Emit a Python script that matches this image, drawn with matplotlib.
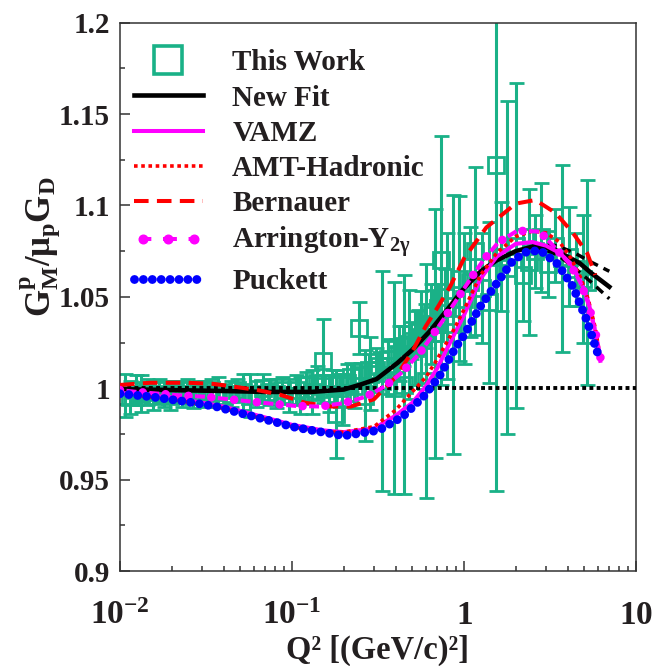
import matplotlib
matplotlib.use('Agg')
import matplotlib.pyplot as plt
from matplotlib.lines import Line2D
from matplotlib.legend_handler import HandlerLine2D

plt.rcParams['font.family'] = 'Liberation Serif'
plt.rcParams['font.weight'] = 'bold'
plt.rcParams['axes.labelweight'] = 'bold'
plt.rcParams['mathtext.fontset'] = 'custom'
plt.rcParams['mathtext.rm'] = 'Liberation Serif:bold'
plt.rcParams['mathtext.it'] = 'Liberation Serif:bold'
plt.rcParams['mathtext.bf'] = 'Liberation Serif:bold'
plt.rcParams['lines.scale_dashes'] = False

GREEN = '#1ab187'
TXT = '#231f20'

# ---- This Work (Q2, GMp/mu_p GD, error) ----
work_q2 = [0.0107, 0.0115, 0.0124, 0.0133, 0.0143, 0.0155, 0.0168, 0.018, 0.0195, 0.021,
           0.0228, 0.0245, 0.0265, 0.029, 0.031, 0.034, 0.037, 0.040, 0.044, 0.048,
           0.052, 0.057, 0.062, 0.068, 0.074, 0.081, 0.088, 0.096,
           0.105, 0.112, 0.12, 0.13, 0.14, 0.152, 0.165, 0.18, 0.195, 0.21,
           0.23, 0.245, 0.265, 0.285, 0.31, 0.335, 0.36, 0.39, 0.42, 0.45,
           0.48, 0.52, 0.56, 0.60, 0.64, 0.68,
           0.15, 0.17, 0.19, 0.22, 0.25, 0.28, 0.32, 0.36, 0.40, 0.44,
           0.49, 0.54, 0.59, 0.65, 0.71, 0.78,
           0.74, 0.80, 0.86, 0.93, 1.0, 1.08, 1.16, 1.28, 1.4, 1.53,
           1.65, 1.79, 2.0, 2.2, 2.4, 2.6, 2.8, 3.1, 3.4, 3.7, 4.1, 4.5, 4.9, 5.2]
work_val = [0.996, 0.995, 0.999, 0.997, 0.998, 0.996, 0.999, 0.997, 0.996, 0.998,
            0.997, 0.999, 0.996, 0.998, 0.997, 0.999, 0.998, 0.996, 0.997, 0.999,
            0.998, 0.996, 0.997, 1.000, 0.998, 0.997, 0.999, 0.996,
            0.999, 0.996, 1.002, 0.998, 1.003, 1.015, 0.997, 0.986, 0.994, 1.003,
            1.001, 1.033, 0.996, 1.008, 1.010, 1.004, 1.012, 1.000, 1.019, 1.002,
            1.024, 1.022, 1.028, 1.004, 1.035, 1.030,
            1.001, 1.003, 1.002, 1.006, 1.007, 1.010, 1.012, 1.016, 1.018, 1.023,
            1.026, 1.031, 1.034, 1.040, 1.044, 1.050,
            1.070, 1.045, 1.035, 1.060, 1.049, 1.058, 1.075, 1.055, 1.047, 1.122,
            1.072, 1.066, 1.078, 1.062, 1.069, 1.075, 1.0825, 1.068, 1.078, 1.071, 1.072, 1.065, 1.060, 1.058]
work_err = [0.012, 0.009, 0.008, 0.010, 0.007, 0.008, 0.006, 0.007, 0.008, 0.006,
            0.007, 0.006, 0.007, 0.006, 0.007, 0.006, 0.008, 0.006, 0.007, 0.006,
            0.010, 0.012, 0.007, 0.008, 0.007, 0.008, 0.007, 0.009,
            0.008, 0.010, 0.007, 0.012, 0.009, 0.023, 0.010, 0.024, 0.014, 0.010,
            0.012, 0.014, 0.025, 0.020, 0.012, 0.060, 0.015, 0.058, 0.015, 0.060,
            0.030, 0.020, 0.025, 0.064, 0.022, 0.068,
            0.006, 0.007, 0.006, 0.008, 0.007, 0.009, 0.008, 0.010, 0.009, 0.011,
            0.010, 0.012, 0.012, 0.014, 0.013, 0.015,
            0.068, 0.040, 0.071, 0.045, 0.036, 0.030, 0.046, 0.030, 0.044, 0.178,
            0.030, 0.091, 0.089, 0.025, 0.040, 0.020, 0.030, 0.018, 0.020, 0.051, 0.027, 0.020, 0.035, 0.056]

# ---- model curves ----
newfit_q2 = [0.01, 0.02, 0.04, 0.07, 0.1, 0.13, 0.17, 0.2, 0.25, 0.31, 0.41, 0.5, 0.63, 0.8,
             0.98, 1.25, 1.55, 2.0, 2.5, 3.0, 3.4, 4.0, 4.7, 5.5, 6.4, 7.0]
newfit_val = [0.9995, 0.999, 0.9985, 0.998, 0.998, 0.998, 0.9988, 0.9993, 1.002, 1.005, 1.0138,
              1.021, 1.031, 1.043, 1.0537, 1.064, 1.070, 1.075, 1.0775, 1.077, 1.0757, 1.072,
              1.0685, 1.063, 1.0583, 1.0555]
band_q2 = [2.5, 3.0, 3.5, 4.5, 5.5, 7.0]
band_hi = [1.0785, 1.0785, 1.078, 1.0735, 1.069, 1.064]
band_lo = [1.0765, 1.0755, 1.073, 1.065, 1.058, 1.049]

vamz_q2 = [0.01, 0.02, 0.04, 0.07, 0.1, 0.15, 0.2, 0.3, 0.4, 0.5, 0.6, 0.7, 0.8, 1.0, 1.25,
           1.55, 2.0, 2.5, 3.0, 3.6, 4.2, 4.8, 5.3, 5.8, 6.2]
vamz_val = [0.9975, 0.995, 0.990, 0.984, 0.980, 0.977, 0.976, 0.978, 0.985, 0.992, 1.001, 1.011,
            1.022, 1.040, 1.060, 1.072, 1.079, 1.080, 1.078, 1.074, 1.068, 1.058, 1.047, 1.031, 1.015]

amt_q2 = [0.01, 0.02, 0.04, 0.07, 0.1, 0.15, 0.2, 0.3, 0.4, 0.5, 0.6, 0.7, 0.85, 1.0, 1.25,
          1.55, 2.0, 2.5, 3.0, 3.6, 4.2, 4.8, 5.3, 5.8, 6.2]
amt_val = [0.997, 0.994, 0.989, 0.983, 0.979, 0.976, 0.976, 0.979, 0.988, 0.998, 1.006, 1.016,
           1.030, 1.043, 1.062, 1.074, 1.083, 1.086, 1.085, 1.080, 1.071, 1.060, 1.048, 1.033, 1.017]

bern_q2 = [0.01, 0.015, 0.025, 0.035, 0.045, 0.063, 0.085, 0.12, 0.17, 0.22, 0.3, 0.4, 0.5,
           0.6, 0.7, 0.83, 1.0, 1.35, 2.0, 2.6, 3.4, 4.3, 5.2, 5.8]
bern_val = [1.0018, 1.003, 1.003, 1.0024, 1.001, 0.999, 0.9965, 0.992, 0.990, 0.990, 0.994,
            1.006, 1.020, 1.034, 1.044, 1.0556, 1.071, 1.088, 1.101, 1.103, 1.096, 1.085, 1.074, 1.062]

arr_q2 = [0.01, 0.0125, 0.017, 0.023, 0.031, 0.042, 0.058, 0.079, 0.106, 0.145, 0.198, 0.27,
          0.35, 0.44, 0.55, 0.65, 0.77, 0.92, 1.08, 1.29, 1.58, 2.04, 2.76, 3.4, 4.2, 4.8,
          5.3, 5.8, 6.3]
arr_val = [0.999, 0.998, 0.997, 0.996, 0.9954, 0.9941, 0.9927, 0.9914, 0.9903, 0.990, 0.9918,
           0.9954, 1.0013, 1.009, 1.019, 1.0284, 1.0384, 1.0493, 1.0592, 1.0698, 1.0797, 1.0862,
           1.0857, 1.0767, 1.067, 1.057, 1.046, 1.031, 1.014]

puck_q2 = [0.01, 0.015, 0.025, 0.036, 0.055, 0.08, 0.1, 0.13, 0.2, 0.32, 0.44, 0.58, 0.72,
           0.9, 1.0, 1.25, 1.55, 1.93, 2.3, 2.77, 3.5, 4.3, 5.17, 6.0]
puck_val = [0.997, 0.9954, 0.9925, 0.990, 0.9854, 0.9815, 0.979, 0.977, 0.974, 0.977, 0.9845,
            0.9953, 1.0066, 1.0227, 1.029, 1.045, 1.0574, 1.070, 1.0745, 1.0755, 1.068, 1.0556,
            1.0373, 1.019]

ylabels = ['0.9', '0.95', '1', '1.05', '1.1', '1.15', '1.2']
xlabels = [r'$\mathbf{10^{-2}}$', r'$\mathbf{10^{-1}}$', r'$\mathbf{1}$', r'$\mathbf{10}$']

fig = plt.figure(figsize=(6.52, 6.66), dpi=100)
ax = fig.add_axes([0.184, 0.1426, 0.7914, 0.8233])

ax.errorbar(work_q2, work_val, yerr=work_err, fmt='s', mfc='none', mec=GREEN, mew=2.0, ms=11,
            ecolor=GREEN, elinewidth=2.2, capsize=5.4, capthick=2.2, zorder=2)

ax.axhline(1.0, color='black', lw=2.8, ls=(0, (2.8, 2.4)), zorder=3)

ax.plot(newfit_q2, newfit_val, color='black', lw=3.3, zorder=4)
ax.plot(band_q2, band_hi, color='black', lw=2.5, ls=(0, (6.5, 4.5)), zorder=4)
ax.plot(band_q2, band_lo, color='black', lw=2.5, ls=(0, (6.5, 4.5)), zorder=4)
ax.plot(vamz_q2, vamz_val, color='#ff00ff', lw=2.9, zorder=5)
ax.plot(amt_q2, amt_val, color='#ff0000', lw=2.6, ls=(0, (2.6, 2.6)), zorder=6)
ax.plot(bern_q2, bern_val, color='#ff0000', lw=2.9, ls=(0, (10.5, 6.0)), zorder=6)
P = 16.5
ax.plot(arr_q2, arr_val, color='#ff00ff', lw=2.9, ls=(P - 4.7, (7.2, P - 7.2)), zorder=7)
ax.plot(arr_q2, arr_val, color='#ff00ff', lw=6.2, ls=(0, (0.01, P - 0.01)),
        dash_capstyle='round', zorder=7)
ax.plot(puck_q2, puck_val, color='#0000ff', lw=6.4, ls=(0, (0.01, 6.4)),
        dash_capstyle='round', zorder=8)

ax.set_xscale('log')
ax.set_xlim(0.01, 10)
ax.set_ylim(0.9, 1.2)
ax.set_xticks([0.01, 0.1, 1, 10])
ax.set_xticklabels(xlabels)
ax.set_yticks([0.9, 0.95, 1.0, 1.05, 1.1, 1.15, 1.2])
ax.set_yticklabels(ylabels)
ax.set_yticks([0.925, 0.975, 1.025, 1.075, 1.125, 1.175], minor=True)
ax.tick_params(which='both', direction='in', top=False, right=False, color='#333333',
               labelcolor=TXT)
ax.tick_params(which='major', length=7, width=1.1)
ax.tick_params(which='minor', length=3.5, width=1.1)
ax.tick_params(axis='x', pad=38, labelsize=24)
ax.tick_params(axis='y', pad=7, labelsize=21)
for lab in ax.get_xticklabels():
    lab.set_va('baseline')
for s in ax.spines.values():
    s.set_linewidth(1.1)
    s.set_color('#333333')

ax.set_xlabel('Q² [(GeV/c)²]', fontsize=23.5, color=TXT, labelpad=3)
fig.text(0.062, 0.63, r'G$^{\rm p}_{\rm M}$/$\mu_{\rm p}$G$_{\rm D}$', rotation=90,
         fontsize=25, color=TXT, ha='center', va='center')

h_work = Line2D([], [], ls='none', marker='s', ms=20, mfc='none', mec=GREEN, mew=2.6)
h_fit = Line2D([], [], color='black', lw=3.3)
h_vamz = Line2D([], [], color='#ff00ff', lw=2.9)
h_amt = Line2D([], [], color='#ff0000', lw=2.6, ls=(0, (2.6, 2.6)))
h_bern = Line2D([], [], color='#ff0000', lw=2.9, ls=(0, (10.5, 6.0)))
h_arr = Line2D([], [], color='#ff00ff', lw=2.9, ls=(4.0, (10.0, 8.4)),
               marker='o', ms=6.2, mfc='#ff00ff', mec='#ff00ff')
h_puck = Line2D([], [], color='#0000ff', lw=6.4, ls=(0, (0.01, 6.4)), dash_capstyle='round')

leg = ax.legend([h_work, h_fit, h_vamz, h_amt, h_bern, h_arr, h_puck],
                ['This Work', 'New Fit', 'VAMZ', 'AMT-Hadronic', 'Bernauer',
                 r'Arrington-Y$_{2\gamma}$', 'Puckett'],
                handler_map={h_arr: HandlerLine2D(numpoints=3)},
                loc='upper left', bbox_to_anchor=(0.0156, 0.962), frameon=False,
                fontsize=21, handlelength=2.37, handletextpad=1.0, labelspacing=0.28,
                borderpad=0.2, borderaxespad=0)
for t in leg.get_texts():
    t.set_color(TXT)

fig.savefig('out.png', dpi=100)
